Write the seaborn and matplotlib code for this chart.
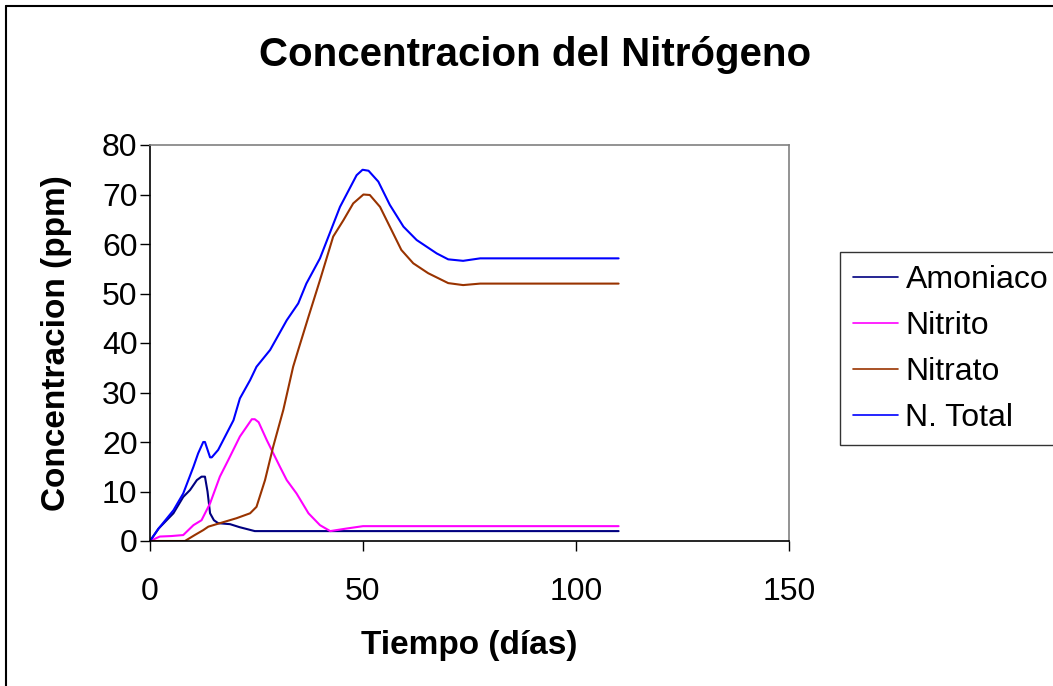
import matplotlib
matplotlib.use("Agg")
import matplotlib.pyplot as plt
import seaborn as sns
import pandas as pd
from matplotlib.lines import Line2D

# Data
amon_x = [0, 2, 5.5, 7.8, 9.4, 11, 12.1, 12.9, 13.5, 14.1, 15, 16, 18.8, 21, 24.6, 30, 50, 80, 110]
amon_y = [0, 2.5, 5.6, 8.9, 10.3, 12.3, 13.0, 13.0, 10, 5.6, 4.2, 3.6, 3.4, 2.8, 2.0, 2.0, 2.0, 2.0, 2.0]

nitrito_x = [0, 2.3, 5, 7.8, 10.2, 12.1, 14.1, 16.4, 18.4, 21.1, 23.9, 24.6, 25.5, 27.4, 30.5, 32.1, 34.4, 37.2, 39.9, 42.3, 46, 50, 80, 110]
nitrito_y = [0, 0.9, 1.0, 1.2, 3.2, 4.2, 7.6, 13.0, 16.4, 21.1, 24.6, 24.6, 24.0, 20.4, 15.0, 12.3, 9.6, 5.6, 3.2, 2.0, 2.5, 3.0, 3.0, 3.0]

nitrato_x = [0, 8.2, 10.5, 12.5, 13.7, 16.4, 20.3, 23.5, 25, 27, 28.9, 31.3, 33.6, 34.8, 37.2, 39.9, 43, 45.4, 47.7, 50.1, 51.6, 54, 56.3, 59, 61.8, 65.3, 70, 73.5, 77.5, 110]
nitrato_y = [0, 0, 1.2, 2.2, 2.9, 3.6, 4.6, 5.6, 6.9, 12.3, 19.0, 26.5, 35.2, 38.6, 45.3, 52.7, 61.5, 64.8, 68.2, 70.0, 69.9, 67.5, 63.5, 58.8, 56.1, 54.1, 52.1, 51.7, 52.0, 52.0]

total_x = [0, 2, 5.5, 7.8, 10.2, 11.3, 12.5, 12.9, 14.1, 14.5, 16, 19.6, 21.1, 23.5, 25, 28.2, 32.1, 34.8, 36.7, 39.9, 44.6, 48.5, 49.9, 51.3, 53.6, 56.3, 59.5, 62.6, 67.3, 70, 73.5, 77.5, 110]
total_y = [0, 2.5, 6.2, 9.6, 15.0, 17.7, 20.0, 20.0, 16.9, 16.9, 18.4, 24.4, 28.8, 32.5, 35.2, 38.6, 44.6, 48.0, 52.0, 57.1, 67.5, 73.9, 75.0, 74.8, 72.6, 67.9, 63.5, 60.8, 58.1, 56.9, 56.6, 57.1, 57.1]

series_names = ["Amoniaco", "Nitrito", "Nitrato", "N. Total"]
series_colors = ["#000080", "#FF00FF", "#993300", "#0000FF"]
x_ticks = [0, 50, 100, 150]
y_ticks = [0, 10, 20, 30, 40, 50, 60, 70, 80]

sns.set_theme(style="white")
plt.rcParams['font.family'] = ['Liberation Sans', 'DejaVu Sans']

fig = plt.figure(figsize=(10.53, 6.86), dpi=100)
ax = fig.add_axes([150/1053, 1 - 541/686, (789-150)/1053, (541-145)/686])

frames = []
for name, xs, ys in zip(series_names,
                        [amon_x, nitrito_x, nitrato_x, total_x],
                        [amon_y, nitrito_y, nitrato_y, total_y]):
    frames.append(pd.DataFrame({"Tiempo": xs, "Conc": ys, "Serie": name}))
df = pd.concat(frames, ignore_index=True)

for name, col in zip(series_names, series_colors):
    sub = df[df["Serie"] == name]
    sns.lineplot(data=sub, x="Tiempo", y="Conc", ax=ax, color=col, linewidth=1.5,
                 label=name, sort=False, estimator=None)

ax.set_xlim(0, 150)
ax.set_ylim(0, 80)
ax.set_xticks(x_ticks)
ax.set_yticks(y_ticks)
ax.tick_params(axis='both', which='both', direction='out', length=7, width=1,
               color='black', labelsize=23, bottom=True, left=True, pad=2)
ax.tick_params(axis='x', pad=19)
for lbl in ax.get_xticklabels() + ax.get_yticklabels():
    lbl.set_color('black')
ax.spines['left'].set_color('black')
ax.spines['bottom'].set_color('black')
ax.spines['top'].set_color('#808080')
ax.spines['right'].set_color('#808080')
for s in ax.spines.values():
    s.set_linewidth(1.2)

ax.set_xlabel("Tiempo (días)", fontsize=24, fontweight='bold', color='black')
ax.set_ylabel("Concentracion (ppm)", fontsize=24, fontweight='bold', color='black')
ax.xaxis.set_label_coords(0.5, -(630-541)/396)
ax.yaxis.set_label_coords(-(150-72)/639, 0.5)
fig.text(535/1053, 1 - 55/686, "Concentracion del Nitrógeno", ha='center', va='center',
         fontsize=29, fontweight='bold', color='black')

leg = ax.legend(loc='upper left', bbox_to_anchor=(840/1053, 1 - 252/686),
                bbox_transform=fig.transFigure, frameon=True, fancybox=False,
                fontsize=23, handlelength=1.4, handletextpad=0.25, borderpad=0.4,
                labelspacing=0.5, borderaxespad=0)
leg.get_frame().set_edgecolor('black')
leg.get_frame().set_linewidth(1.0)
for t in leg.get_texts():
    t.set_color('black')
for h in leg.get_lines():
    h.set_linewidth(1.2)

# Outer chart border (left and top visible; right/bottom run off the image)
fig.add_artist(Line2D([6/1053, 6/1053], [0, 1 - 6/686], transform=fig.transFigure,
                      color='black', linewidth=1.5))
fig.add_artist(Line2D([6/1053, 1], [1 - 6/686, 1 - 6/686], transform=fig.transFigure,
                      color='black', linewidth=1.5))

fig.savefig("out.png", dpi=100)
